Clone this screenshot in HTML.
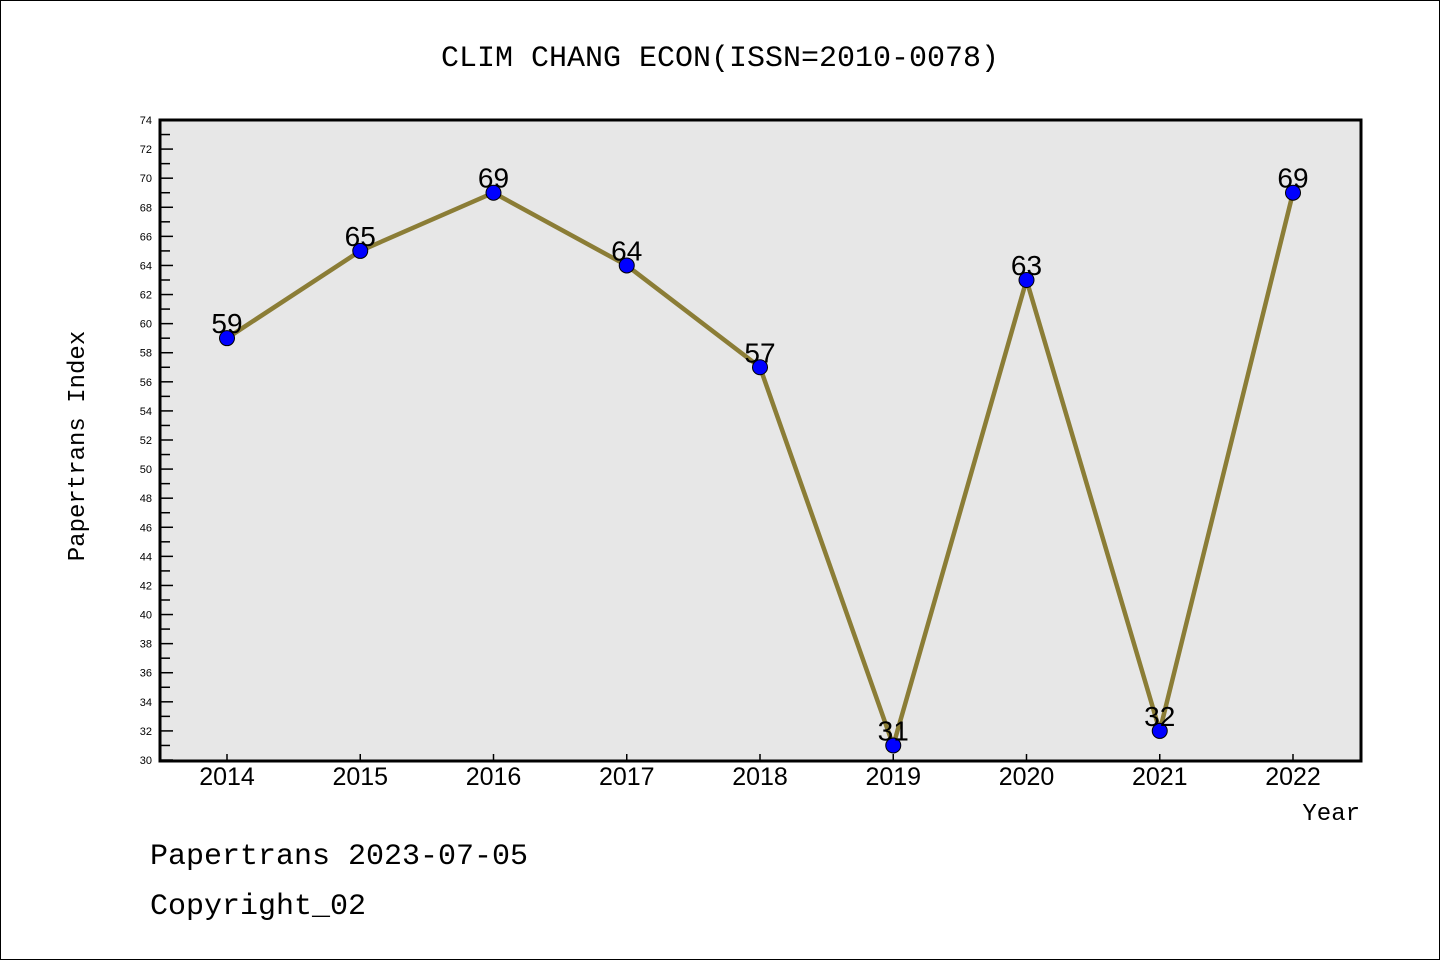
<!DOCTYPE html>
<html><head><meta charset="utf-8"><style>
body{margin:0;background:#fff}
svg{display:block}
text{font-family:"WenQuanYi Zen Hei","Liberation Mono",monospace;fill:#000}
</style></head><body>
<svg id="c" width="1440" height="960">
<rect x="0.5" y="0.5" width="1439" height="959" fill="#fff" stroke="#000"/>
<text x="720" y="66" text-anchor="middle" font-size="30">CLIM CHANG ECON(ISSN=2010-0078)</text>
<rect x="160" y="120" width="1201" height="641" fill="#e7e7e7"/>
<g id="ticks"></g>
<g id="series"></g>
<rect x="160" y="120" width="1201" height="641" fill="none" stroke="#000" stroke-width="3"/>
<text transform="translate(84,446) rotate(-90)" text-anchor="middle" font-size="24">Papertrans Index</text>
<text x="1360" y="820" text-anchor="end" font-size="24">Year</text>
<text x="150" y="864" font-size="30">Papertrans 2023-07-05</text>
<text x="150" y="914" font-size="30">Copyright_02</text>
</svg>
<script>
const years=[2014,2015,2016,2017,2018,2019,2020,2021,2022];
const values=[59,65,69,64,57,31,63,32,69];
const yMin=30,yMax=74;
const NS="http://www.w3.org/2000/svg";
function X(i){return 227+i*(1293-227)/(years.length-1);}
function Y(v){return 760-(v-yMin)*(640/(yMax-yMin));}
function mk(t,a,p){const e=document.createElementNS(NS,t);for(const k in a)e.setAttribute(k,a[k]);p.appendChild(e);return e;}
const tk=document.getElementById('ticks');
for(let v=yMin;v<=yMax;v++){
  const major=v%2===0;
  const l=mk('line',{x1:160,x2:160+(major?13:10),y1:Y(v),y2:Y(v),stroke:'#000','stroke-width':1.5},tk);
  
  
  if(major){const t=mk('text',{x:152,y:Y(v)+4,'text-anchor':'end','font-size':11,style:'font-family:"Liberation Sans",sans-serif'},tk);t.textContent=v;
  
  }
}
years.forEach((yr,i)=>{
  const l=mk('line',{x1:X(i),x2:X(i),y1:760,y2:754,stroke:'#000','stroke-width':1.5},tk);
  
  
  const t=mk('text',{x:X(i),y:785,'text-anchor':'middle','font-size':25,style:'font-family:"Liberation Sans",sans-serif'},tk);t.textContent=yr;
  
  
});
const s=document.getElementById('series');
const pl=mk('polyline',{points:values.map((v,i)=>X(i)+','+Y(v)).join(' '),fill:'none',stroke:'#8b7d36','stroke-width':4.5},s);


values.forEach((v,i)=>{
  const c=mk('circle',{cx:X(i),cy:Y(v),r:7.5,fill:'#0000ff',stroke:'#000','stroke-width':1},s);
  
  
  const t=mk('text',{x:X(i),y:Y(v)-5,'text-anchor':'middle','font-size':28,style:'font-family:"Liberation Sans",sans-serif'},s);t.textContent=v;
  
  
});
</script>
</body></html>
